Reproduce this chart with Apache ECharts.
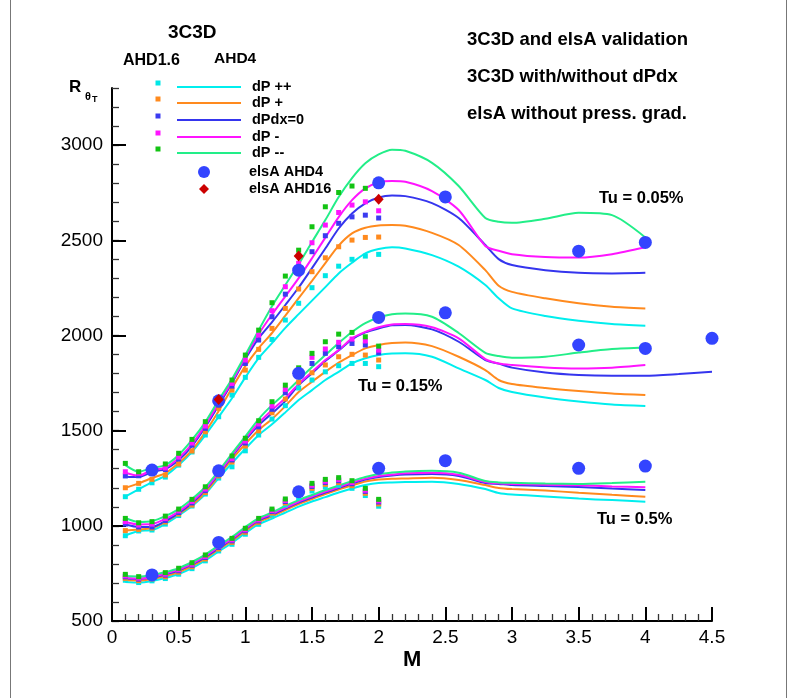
<!DOCTYPE html>
<html>
<head>
<meta charset="utf-8">
<title>3C3D and elsA validation</title>
<script src="https://cdn.jsdelivr.net/npm/echarts@6/dist/echarts.min.js"></script>
<style>
  html, body { margin: 0; padding: 0; background: #ffffff; }
  #chart { width: 799px; height: 698px; }
</style>
</head>
<body>
<div id="chart"></div>
<script>
// ---- Mach numbers ----
const M_LINE = [0.1, 0.2, 0.3, 0.4, 0.5, 0.6, 0.7, 0.8, 0.9, 1.0, 1.1, 1.2, 1.3, 1.4, 1.5, 1.6, 1.7, 1.8, 1.9, 2.0,
                2.1, 2.2, 2.4, 2.6, 2.8, 2.9, 3.0, 3.25, 3.5, 3.75, 4.0];
const M_LINE_LONG = M_LINE.concat([4.25, 4.5]);
const M_SQ = [0.1, 0.2, 0.3, 0.4, 0.5, 0.6, 0.7, 0.8, 0.9, 1.0, 1.1, 1.2, 1.3, 1.4, 1.5, 1.6, 1.7, 1.8, 1.9, 2.0];

// ---- 3C3D AHD4 curves, Tu = 0.05% ----
const TOP_PP_LINE   = [1153,1192,1230,1262,1319,1389,1477,1573,1670,1780,1881,1960,2040,2112,2183,2254,2326,2382,2431,2454,2463,2457,2422,2361,2265,2195,2142,2102,2077,2060,2051];
const TOP_P_LINE    = [1200,1223,1251,1277,1330,1398,1493,1603,1724,1839,1934,2013,2104,2196,2287,2380,2472,2536,2566,2578,2580,2576,2539,2475,2343,2261,2229,2195,2169,2151,2142];
const TOP_ZERO_LINE = [1258,1256,1283,1298,1346,1419,1519,1634,1750,1876,1986,2070,2160,2252,2354,2457,2562,2641,2694,2725,2735,2732,2695,2617,2475,2401,2370,2343,2329,2326,2329];
const TOP_M_LINE    = [1279,1263,1293,1305,1356,1430,1529,1645,1757,1887,2007,2110,2205,2301,2406,2514,2622,2711,2773,2804,2811,2807,2758,2659,2470,2445,2427,2412,2409,2427,2463];
const TOP_MM_LINE   = [1319,1284,1304,1319,1372,1451,1545,1661,1771,1897,2028,2154,2265,2375,2491,2606,2727,2827,2905,2951,2976,2970,2907,2785,2617,2597,2592,2613,2644,2632,2515];

// ---- 3C3D AHD4 curves, Tu = 0.15% ----
const MID_PP_LINE   = [949,973,978,1009,1054,1104,1167,1251,1330,1405,1477,1533,1596,1661,1713,1766,1809,1853,1880,1897,1905,1906,1888,1827,1766,1724,1703,1674,1653,1637,1629];
const MID_P_LINE    = [975,981,988,1020,1062,1109,1175,1262,1350,1430,1503,1561,1629,1703,1757,1809,1857,1897,1932,1950,1960,1963,1944,1888,1818,1766,1745,1724,1708,1695,1687];
const MID_ZERO_LINE = [1007,994,994,1025,1067,1120,1188,1272,1365,1450,1529,1591,1655,1739,1802,1866,1921,1979,2016,2037,2053,2055,2032,1967,1871,1852,1831,1805,1792,1788,1788,1797,1809];
const MID_M_LINE    = [1020,1007,1009,1036,1075,1128,1193,1277,1370,1458,1540,1608,1671,1745,1808,1871,1923,1985,2019,2043,2058,2060,2043,1985,1876,1853,1845,1832,1827,1831,1845];
const MID_MM_LINE   = [1041,1020,1025,1051,1088,1141,1204,1288,1380,1470,1561,1634,1697,1766,1834,1897,1960,2018,2065,2094,2112,2115,2098,2013,1909,1892,1883,1888,1910,1929,1937];

// ---- 3C3D AHD4 curves, Tu = 0.5% ----
const BOT_PP_LINE   = [705,702,710,726,747,778,818,865,910,962,1009,1038,1070,1101,1128,1151,1175,1196,1214,1225,1228,1230,1232,1220,1193,1172,1164,1154,1143,1135,1127];
const BOT_P_LINE    = [715,713,721,736,757,789,828,876,920,973,1020,1049,1083,1114,1141,1167,1191,1212,1233,1243,1247,1249,1253,1241,1214,1199,1193,1185,1174,1163,1153];
const BOT_ZERO_LINE = [723,721,728,744,765,797,836,883,928,981,1028,1057,1091,1122,1149,1175,1199,1222,1243,1256,1264,1269,1272,1262,1225,1220,1214,1209,1204,1196,1188];
const BOT_M_LINE    = [726,723,731,749,770,802,841,889,933,986,1033,1062,1096,1128,1154,1180,1204,1227,1248,1262,1269,1276,1279,1268,1230,1223,1220,1216,1213,1207,1202];
const BOT_MM_LINE   = [736,734,742,757,778,810,849,897,941,994,1041,1070,1104,1135,1162,1188,1212,1235,1256,1272,1280,1286,1289,1279,1235,1228,1226,1222,1220,1225,1232];

// ---- 3C3D AHD1.6 points ----
const TOP_PP_SQ   = [1153,1192,1226,1256,1319,1388,1477,1573,1687,1780,1885,1979,2081,2169,2251,2314,2364,2400,2417,2426];
const TOP_P_SQ    = [1200,1223,1244,1267,1325,1393,1494,1617,1713,1818,1927,2037,2142,2244,2335,2408,2466,2501,2515,2517];
const TOP_ZERO_SQ = [1262,1263,1283,1296,1351,1424,1512,1634,1734,1853,1976,2098,2217,2343,2440,2524,2589,2623,2632,2617];
const TOP_M_SQ    = [1284,1276,1293,1304,1361,1435,1524,1643,1748,1871,2002,2130,2256,2379,2487,2580,2646,2685,2702,2655];
const TOP_MM_SQ   = [1328,1284,1304,1325,1381,1454,1547,1671,1766,1897,2028,2172,2312,2448,2571,2676,2751,2785,2773,2806];

const MID_PP_SQ   = [948,973,978,1009,1054,1104,1167,1251,1310,1394,1477,1561,1631,1724,1766,1809,1841,1853,1853,1836];
const MID_P_SQ    = [975,981,988,1020,1062,1109,1175,1262,1335,1419,1499,1594,1666,1755,1804,1845,1888,1901,1897,1871];
const MID_ZERO_SQ = [1009,994,994,1028,1070,1120,1185,1269,1346,1435,1520,1612,1699,1787,1853,1906,1941,1958,1950,1909];
const MID_M_SQ    = [1022,1004,1009,1038,1078,1128,1193,1277,1353,1445,1535,1629,1717,1808,1885,1929,1964,1981,1971,1923];
const MID_MM_SQ   = [1039,1016,1022,1051,1088,1139,1205,1288,1367,1460,1552,1652,1739,1830,1906,1967,2007,2016,1993,1944];

const BOT_PP_SQ   = [714,702,711,723,746,775,816,868,903,956,1008,1057,1110,1148,1183,1204,1213,1197,1159,1103];
const BOT_P_SQ    = [724,712,721,733,756,785,826,878,913,966,1018,1067,1120,1162,1197,1218,1227,1211,1171,1115];
const BOT_ZERO_SQ = [732,720,729,741,764,793,834,886,921,974,1026,1075,1128,1172,1207,1228,1237,1221,1181,1125];
const BOT_M_SQ    = [737,725,734,746,769,798,839,891,926,979,1031,1080,1133,1178,1213,1234,1243,1227,1187,1131];
const BOT_MM_SQ   = [745,733,742,754,777,806,847,899,934,987,1039,1088,1141,1188,1223,1244,1253,1237,1197,1139];

// ---- elsA results ----
const ELSA4_TOP_M = [0.3, 0.8, 1.4, 2.0, 2.5, 3.5, 4.0];
const ELSA4_TOP   = [1293, 1657, 2343, 2802, 2728, 2443, 2489];
const ELSA4_MID_M = [0.8, 1.4, 2.0, 2.5, 3.5, 4.0, 4.5];
const ELSA4_MID   = [1289, 1801, 2095, 2119, 1950, 1932, 1985];
const ELSA4_BOT_M = [0.3, 0.8, 1.4, 2.0, 2.5, 3.5, 4.0];
const ELSA4_BOT   = [742, 913, 1179, 1302, 1342, 1302, 1314];
const ELSA16_M    = [0.8, 1.4, 2.0];
const ELSA16      = [1664, 2417, 2715];

// ---- axis ticks ----
const Y_MAJOR = [500, 1000, 1500, 2000, 2500, 3000];

// ---- styling ----
const FONT = "'Liberation Sans', Arial, Helvetica, sans-serif";
const CASE_NAMES = ['dP ++', 'dP +', 'dPdx=0', 'dP -', 'dP --'];
const LINE_COLORS = ['#00eeee', '#ff8a1e', '#3535ee', '#ff14ff', '#22ee88'];
const SQ_COLORS   = ['#00e6e6', '#ff8a1e', '#3b3bf0', '#ff14ff', '#13c313'];
const ELSA_BLUE = '#3344ff';
const ELSA_RED = '#cc0000';

const GROUP_LINES = [
  [TOP_PP_LINE, TOP_P_LINE, TOP_ZERO_LINE, TOP_M_LINE, TOP_MM_LINE],
  [MID_PP_LINE, MID_P_LINE, MID_ZERO_LINE, MID_M_LINE, MID_MM_LINE],
  [BOT_PP_LINE, BOT_P_LINE, BOT_ZERO_LINE, BOT_M_LINE, BOT_MM_LINE]
];
const GROUP_SQ = [
  [TOP_PP_SQ, TOP_P_SQ, TOP_ZERO_SQ, TOP_M_SQ, TOP_MM_SQ],
  [MID_PP_SQ, MID_P_SQ, MID_ZERO_SQ, MID_M_SQ, MID_MM_SQ],
  [BOT_PP_SQ, BOT_P_SQ, BOT_ZERO_SQ, BOT_M_SQ, BOT_MM_SQ]
];

function pairs(xs, ys) { return ys.map((v, i) => [xs[i], v]); }

const series = [];
GROUP_LINES.forEach((lines) => {
  lines.forEach((ys, c) => {
    const xs = ys.length === M_LINE_LONG.length ? M_LINE_LONG : M_LINE;
    series.push({
      name: CASE_NAMES[c] + ' AHD4', type: 'line', xAxisIndex: 0, yAxisIndex: 1,
      data: pairs(xs, ys), showSymbol: false, smooth: 0.25, z: 2,
      lineStyle: { color: LINE_COLORS[c], width: 2 }, silent: true, animation: false
    });
  });
});
GROUP_SQ.forEach((sets) => {
  sets.forEach((ys, c) => {
    series.push({
      name: CASE_NAMES[c] + ' AHD1.6', type: 'scatter', xAxisIndex: 0, yAxisIndex: 1,
      data: pairs(M_SQ, ys), symbol: 'rect', symbolSize: 5, z: 3,
      itemStyle: { color: SQ_COLORS[c], opacity: 1 }, silent: true, animation: false
    });
  });
});
[[ELSA4_TOP_M, ELSA4_TOP], [ELSA4_MID_M, ELSA4_MID], [ELSA4_BOT_M, ELSA4_BOT]].forEach(([xs, ys]) => {
  series.push({
    name: 'elsA AHD4', type: 'scatter', xAxisIndex: 0, yAxisIndex: 1, clip: false,
    data: pairs(xs, ys), symbol: 'circle', symbolSize: 13, z: 4,
    itemStyle: { color: ELSA_BLUE, opacity: 1 }, silent: true, animation: false
  });
});
series.push({
  name: 'elsA AHD16', type: 'scatter', xAxisIndex: 0, yAxisIndex: 1, clip: false,
  data: pairs(ELSA16_M, ELSA16), symbol: 'diamond', symbolSize: [10, 11], z: 5,
  itemStyle: { color: ELSA_RED, opacity: 1 }, silent: true, animation: false
});

// ---- legend and annotations ----
const graphic = [];
function txt(text, x, y, size, opts) {
  graphic.push({
    type: 'text', z: 20, silent: true,
    style: Object.assign({
      text: text, x: x, y: y, fill: '#000',
      font: 'bold ' + size + 'px ' + FONT, verticalAlign: 'middle', align: 'left'
    }, opts || {})
  });
}
// outer frame
graphic.push({ type: 'rect', z: 0, silent: true, shape: { x: 10.5, y: -2, width: 776, height: 703 },
  style: { fill: 'none', stroke: '#777', lineWidth: 1 } });

txt('3C3D', 168, 33, 19);
txt('AHD1.6', 123, 61, 16);
txt('AHD4', 214, 59, 15.5);

const legendRows = [87, 103, 120, 137, 153];
[0, 1, 2, 3, 4].forEach((c, i) => {
  const y = legendRows[i];
  graphic.push({ type: 'rect', z: 20, silent: true, shape: { x: 155.5, y: y - 6.5, width: 5, height: 5 },
    style: { fill: SQ_COLORS[c] } });
  graphic.push({ type: 'line', z: 20, silent: true, shape: { x1: 177, y1: y, x2: 241, y2: y },
    style: { stroke: LINE_COLORS[c], lineWidth: 2 } });
  txt(CASE_NAMES[c], 252, y, 14.5);
});
graphic.push({ type: 'circle', z: 20, silent: true, shape: { cx: 204, cy: 172, r: 6 }, style: { fill: ELSA_BLUE } });
txt('elsA AHD4', 249, 172, 14.5);
graphic.push({ type: 'polygon', z: 20, silent: true,
  shape: { points: [[204, 184], [209, 189], [204, 194], [199, 189]] }, style: { fill: ELSA_RED } });
txt('elsA AHD16', 249, 189, 14.5);

txt('3C3D and elsA validation', 467, 40, 18.5);
txt('3C3D with/without dPdx', 467, 77, 18.5);
txt('elsA without press. grad.', 467, 114, 18.5);

txt('Tu = 0.05%', 599, 198, 16.5);
txt('Tu = 0.15%', 358, 386, 16.5);
txt('Tu = 0.5%', 597, 519, 16.5);

// axis titles
txt('R', 69, 87, 17);
txt('\u03b8', 85, 97, 11, { font: 'bold 11px ' + FONT });
txt('T', 92, 100, 9);
txt('M', 403, 660, 22);

const plainNumber = (v) => String(v);

const chart = echarts.init(document.getElementById('chart'), null, { renderer: 'canvas' });
chart.setOption({
  animation: false,
  backgroundColor: '#ffffff',
  grid: { left: 112, right: 87, top: 88, bottom: 77, containLabel: false },
  xAxis: [{
    type: 'value', min: 0, max: 4.5, interval: 0.5,
    axisLine: { show: true, onZero: false, lineStyle: { color: '#000', width: 2 } },
    axisTick: { show: true, inside: true, length: 14, lineStyle: { color: '#000', width: 2 } },
    minorTick: { show: true, splitNumber: 5, length: 7, lineStyle: { color: '#333', width: 1.3 } },
    axisLabel: { show: true, color: '#000', fontSize: 19, fontFamily: FONT, margin: 7, formatter: plainNumber },
    splitLine: { show: false }, minorSplitLine: { show: false }
  }],
  yAxis: [{
    type: 'value', min: 500, max: 3300, interval: 100, position: 'left',
    axisLine: { show: true, onZero: false, lineStyle: { color: '#000', width: 2 } },
    axisTick: { show: true, inside: true, length: 7, lineStyle: { color: '#333', width: 1.3 } },
    axisLabel: { show: false }, splitLine: { show: false }
  }, {
    type: 'value', min: 500, max: 3300, interval: 500, position: 'left',
    axisLine: { show: false },
    axisTick: { show: true, inside: true, length: 14, customValues: Y_MAJOR, lineStyle: { color: '#000', width: 2 } },
    axisLabel: { show: true, customValues: Y_MAJOR, color: '#000', fontSize: 19, fontFamily: FONT, margin: 9, formatter: plainNumber },
    splitLine: { show: false }
  }],
  series: series,
  graphic: graphic
});
</script>
</body>
</html>
